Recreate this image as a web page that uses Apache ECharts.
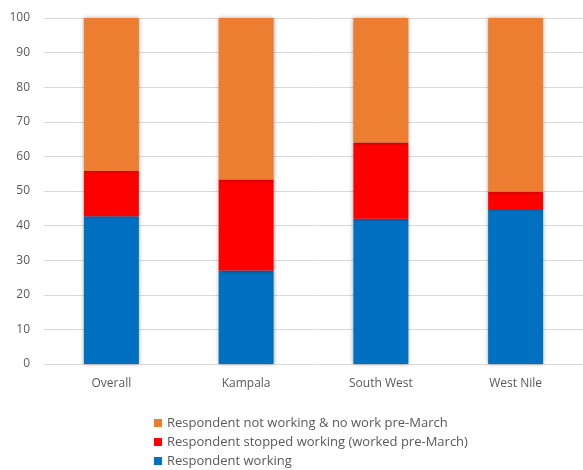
<!DOCTYPE html>
<html><head><meta charset="utf-8">
<script src="https://cdn.jsdelivr.net/npm/echarts@6/dist/echarts.min.js"></script>
<style>html,body{margin:0;padding:0;background:#fff}#c{width:583px;height:470px}</style>
</head><body><div id="c"></div>
<script>
var categories = ["Overall", "Kampala", "South West", "West Nile"];
var working = [42.7, 27.0, 42.0, 44.8];
var stopped = [13.1, 26.3, 22.0, 5.0];
var notWorking = [44.2, 46.7, 36.0, 50.2];
var yTicks = [0, 10, 20, 30, 40, 50, 60, 70, 80, 90, 100];
var names = ["Respondent working", "Respondent stopped working (worked pre-March)", "Respondent not working & no work pre-March"];

var FONT = "'Open Sans', 'Liberation Sans', sans-serif";
var shadow = {shadowColor: 'rgba(0,0,0,0.35)', shadowBlur: 4, shadowOffsetX: 0, shadowOffsetY: 0};
function mk(name, data, color) {
  return {name: name, type: 'bar', stack: 's', data: data, barWidth: 55,
    itemStyle: Object.assign({color: color}, shadow), emphasis: {disabled: true}};
}
var chart = echarts.init(document.getElementById('c'), null, {renderer: 'canvas'});
chart.setOption({
  animation: false,
  textStyle: {fontFamily: FONT},
  grid: {left: 44, right: 0, top: 18, bottom: 106, containLabel: false},
  xAxis: {type: 'category', data: categories,
    axisLine: {lineStyle: {color: '#d9d9d9'}}, axisTick: {show: false},
    axisLabel: {color: '#595959', fontSize: 12, margin: 14, fontFamily: FONT}},
  yAxis: {type: 'value', min: yTicks[0], max: yTicks[yTicks.length - 1], interval: 10,
    splitLine: {lineStyle: {color: '#d9d9d9'}},
    axisLabel: {color: '#595959', fontSize: 12, margin: 14, fontFamily: FONT}},
  legend: {orient: 'vertical', left: 154, top: 416, padding: 0, itemWidth: 8, itemHeight: 8, itemGap: 5,
    icon: 'rect', data: [names[2], names[1], names[0]],
    textStyle: {color: '#595959', fontSize: 13, lineHeight: 14, fontFamily: FONT}},
  series: [
    mk(names[0], working, '#0070C0'),
    mk(names[1], stopped, '#FF0000'),
    mk(names[2], notWorking, '#ED7D31')
  ]
});
</script></body></html>
